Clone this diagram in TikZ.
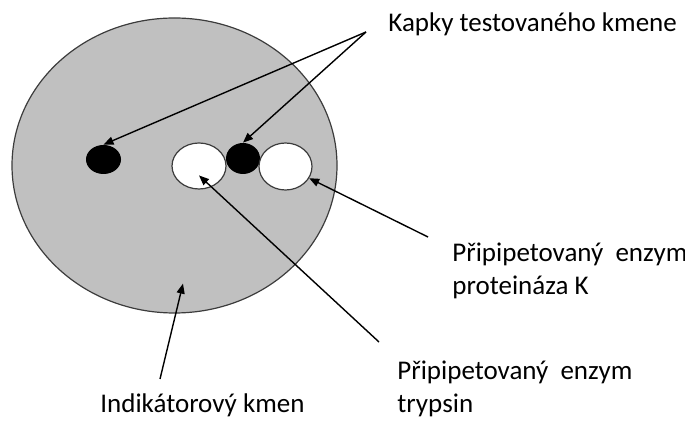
\documentclass[tikz,border=0pt]{standalone}
\usepackage{fontspec}
\setmainfont{Carlito}
\usepackage{xcolor}
\usepackage{tikz}
\usetikzlibrary{shapes.geometric, arrows.meta, positioning, calc}
\definecolor{plategray}{RGB}{192,192,192}
\definecolor{rimgray}{RGB}{60,60,60}

\begin{document}
\begin{tikzpicture}[
    x=0.5pt, y=-0.5pt,
    plate/.style={ellipse, draw=rimgray, fill=plategray, line width=0.6pt, inner sep=0},
    drop/.style={ellipse, fill=black, inner sep=0},
    well/.style={ellipse, draw=rimgray, fill=white, line width=0.6pt, inner sep=0},
    lbl/.style={inner sep=0, align=left, font=\fontsize{13.5}{16.5}\selectfont},
    pointer/.style={line width=0.7pt, -{Triangle[length=5pt, width=4pt]}}
]
\useasboundingbox (0,0) rectangle (685,421);

% Plate with indicator strain
\node[plate, minimum width=162.5pt, minimum height=147.5pt] (plate) at (174.5,165.5) {};

% Drops and wells
\node[drop, minimum width=17.5pt, minimum height=14.5pt] (drop1) at (103.5,159.5) {};
\node[well, minimum width=27pt, minimum height=23pt] (wellt) at (199,166) {};
\node[drop, minimum width=17pt, minimum height=15.5pt] (drop2) at (243,158.5) {};
\node[well, minimum width=26.5pt, minimum height=23.5pt] (wellk) at (285.5,166.5) {};

% Labels
\node[lbl, anchor=base west] (kapky) at (388,32) {Kapky testovaného kmene};
\node[lbl, anchor=base west] (enzymk) at (452,295) {Připipetovaný~~enzym\\proteináza K};
\node[lbl, anchor=base west] (enzymt) at (397,413) {Připipetovaný~~enzym\\trypsin};
\node[lbl, anchor=base west] (indik) at (100,413) {Indikátorový kmen};

\coordinate (lawn) at ($(plate.south)+(8.5,-30)$);

% Arrows
\draw[pointer] ([xshift=-11pt]kapky.base west) -- (drop1.north);
\draw[pointer] ([xshift=-11pt]kapky.base west) -- (drop2.north);
\draw[pointer] ([xshift=-12pt, yshift=29pt]enzymk.base west) -- (wellk);
\draw[pointer] ([xshift=-9pt, yshift=35.5pt]enzymt.base west) -- ($(wellt.center)!0.4!(wellt.south)$);
\draw[pointer] ([xshift=30pt, yshift=17pt]indik.base west) -- (lawn);
\end{tikzpicture}
\end{document}
